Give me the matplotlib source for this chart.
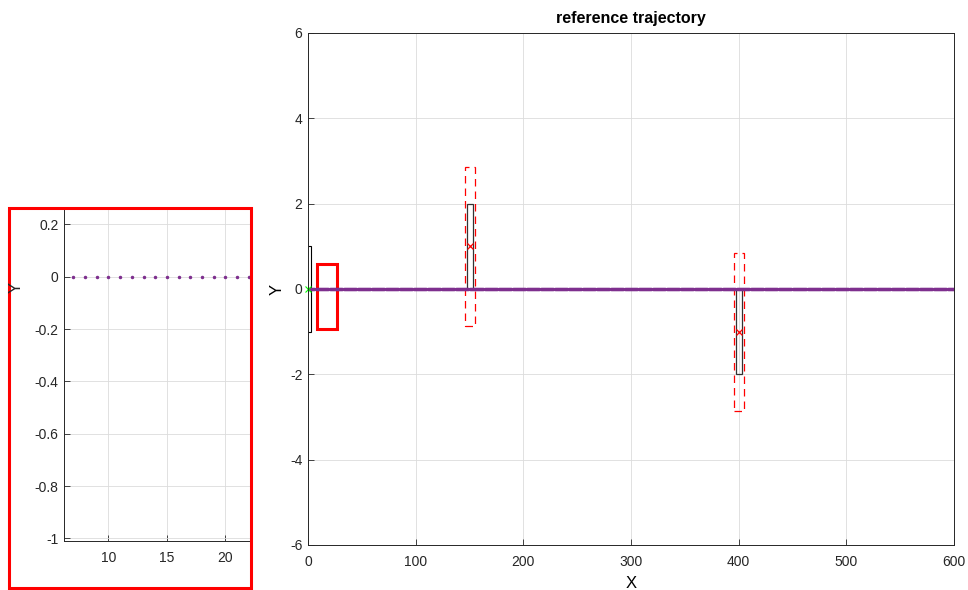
import numpy as np
import matplotlib.pyplot as plt
from matplotlib.patches import Rectangle

plt.rcParams['font.family'] = ['Liberation Sans', 'DejaVu Sans']
plt.rcParams['font.size'] = 10
plt.rcParams['axes.unicode_minus'] = False

# reference path: one sample per metre along y = 0
ref_x = np.arange(0, 601, 1.0)
ref_y = np.zeros_like(ref_x)

# obstacles (centre x, centre y, width, height) and their safety margins
obs_cx = [150.5, 400.5]
obs_cy = [1.0, -1.0]
obs_w = [5.5, 5.5]
obs_h = [2.0, 2.0]
safe_w = [9.2, 9.0]
safe_h = [3.74, 3.7]

# vehicle footprint at the start
car_x, car_y, car_len, car_wid = 0.0, 0.0, 5.0, 2.0

# zoom window shown in the side panel
zoom_x0, zoom_x1 = 8.7, 27.2
zoom_y0, zoom_y1 = -0.93, 0.59

purple = '#7E2F8E'
W, H = 968, 590
fig = plt.figure(figsize=(W / 100, H / 100), dpi=100)


def px_axes(l, t, r, b):
    return fig.add_axes([l / W, 1 - b / H, (r - l) / W, (b - t) / H])


def matlab_style(ax):
    ax.grid(True, color='#dcdcdc', linewidth=0.6)
    ax.set_axisbelow(True)
    ax.tick_params(direction='in', length=4, width=0.6, colors='#262626',
                   labelsize=10, pad=4)
    ax.tick_params(axis='x', pad=7)
    for s in ax.spines.values():
        s.set_color('#262626')
        s.set_linewidth(0.7)


ax = px_axes(308, 33, 954, 545)
matlab_style(ax)
ax.plot(ref_x, ref_y, '.', color=purple, markersize=3)
ax.add_patch(Rectangle((car_x - car_len / 2, car_y - car_wid / 2), car_len, car_wid,
                       fill=False, edgecolor='k', linewidth=0.8, clip_on=True))
ax.plot(car_x, car_y, 'x', color='#00ff00', markersize=4, markeredgewidth=0.8,
        clip_on=False)
for cx, cy, w, h, sw, sh in zip(obs_cx, obs_cy, obs_w, obs_h, safe_w, safe_h):
    ax.add_patch(Rectangle((cx - w / 2, cy - h / 2), w, h, fill=False,
                           edgecolor='#333333', linewidth=0.9))
    ax.add_patch(Rectangle((cx - sw / 2, cy - sh / 2), sw, sh, fill=False,
                           edgecolor='red', linewidth=0.9, linestyle=(0, (6, 4))))
    ax.plot(cx, cy, 'x', color='red', markersize=5, markeredgewidth=0.9)
ax.add_patch(Rectangle((zoom_x0, zoom_y0), zoom_x1 - zoom_x0, zoom_y1 - zoom_y0,
                       fill=False, edgecolor='red', linewidth=2.2))
ax.set_xlim(0, 600)
ax.set_ylim(-6, 6)
ax.set_xticks(np.arange(0, 601, 100))
ax.set_yticks(np.arange(-6, 7, 2))
ax.set_title('reference trajectory', fontsize=11.5, fontweight='bold', pad=7)
ax.set_xlabel('X', fontsize=12, labelpad=5)
ax.set_ylabel('Y', fontsize=12, labelpad=4)

# side panel: close-up of the start of the path
axi = px_axes(64, 210, 250, 541)
matlab_style(axi)
axi.spines['top'].set_visible(False)
axi.spines['right'].set_visible(False)
axi.plot(ref_x, ref_y, '.', color=purple, markersize=3)
axi.set_xlim(6.2, 22.1)
axi.set_ylim(-1.01, 0.255)
axi.set_xticks([10, 15, 20])
axi.set_yticks([0.2, 0, -0.2, -0.4, -0.6, -0.8, -1])
axi.set_yticklabels(['0.2', '0', '-0.2', '-0.4', '-0.6', '-0.8', '-1'])
fig.text(16 / W, 1 - 287 / H, 'Y', rotation=90, ha='center', va='center',
         fontsize=12, color='#262626')
fig.add_artist(Rectangle((9 / W, 1 - 588 / H), 242 / W, 380 / H,
                         transform=fig.transFigure, fill=False,
                         edgecolor='red', linewidth=2.2))

fig.savefig('out.png', dpi=100)
